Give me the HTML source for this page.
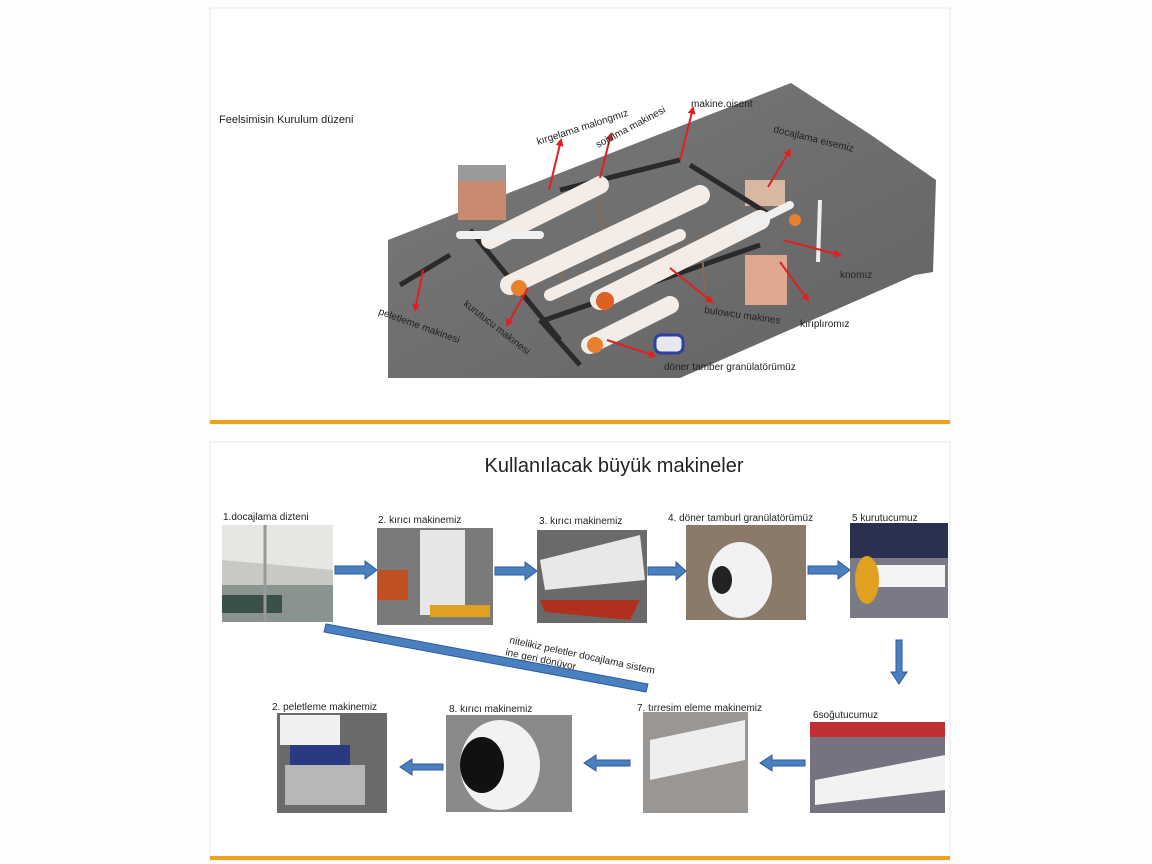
<!DOCTYPE html>
<html><head><meta charset="utf-8"><style>
html,body{margin:0;padding:0;background:#fdfdfd;}
svg{display:block}
text{font-family:"Liberation Sans",sans-serif;fill:#222}
</style></head><body>
<svg width="1152" height="864" viewBox="0 0 1152 864" xmlns="http://www.w3.org/2000/svg">
<defs>
<marker id="ra" markerWidth="8" markerHeight="8" refX="6" refY="4" orient="auto" markerUnits="userSpaceOnUse"><path d="M0,0 L8,4 L0,8 z" fill="#e02020"/></marker>
<linearGradient id="plat" x1="0" y1="0" x2="1" y2="1"><stop offset="0" stop-color="#7a7a7a"/><stop offset="1" stop-color="#636363"/></linearGradient>
</defs>
<rect width="1152" height="864" fill="#fdfdfd"/>
<rect x="210" y="8" width="740" height="416" fill="#fff" stroke="#e8e8e8"/>
<rect x="210" y="420" width="740" height="4" fill="#f0a020"/>
<text x="219" y="123" font-size="11">Feelsimisin Kurulum düzeni</text>
<polygon points="388,240 791,83 871,135 936,180 933,272 915,275 680,378 388,378" fill="url(#plat)"/>
<rect x="458" y="172" width="48" height="48" fill="#c98b70"/>
<rect x="458" y="165" width="48" height="16" fill="#9a9a9a"/>
<rect x="745" y="255" width="42" height="50" fill="#e0a890"/>
<rect x="745" y="180" width="40" height="26" fill="#d8b8a0"/>
<line x1="820" y1="200" x2="818" y2="262" stroke="#eee" stroke-width="4"/>
<g stroke="#2a2a2a" stroke-width="5">
<line x1="470" y1="230" x2="560" y2="340"/>
<line x1="540" y1="320" x2="580" y2="365"/>
<line x1="545" y1="320" x2="760" y2="245"/>
<line x1="560" y1="190" x2="680" y2="160"/>
<line x1="690" y1="165" x2="770" y2="215"/>
<line x1="400" y1="285" x2="450" y2="255"/>
</g>
<g stroke="#8a6a50" stroke-width="2">
<line x1="600" y1="200" x2="605" y2="260"/><line x1="640" y1="210" x2="645" y2="270"/><line x1="700" y1="230" x2="705" y2="290"/><line x1="560" y1="250" x2="565" y2="300"/>
</g>
<g stroke-linecap="round">
<line x1="490" y1="240" x2="600" y2="185" stroke="#f4ece6" stroke-width="18"/>
<line x1="510" y1="285" x2="700" y2="195" stroke="#f4ece6" stroke-width="20"/>
<line x1="550" y1="295" x2="680" y2="235" stroke="#f4ece6" stroke-width="12"/>
<line x1="600" y1="300" x2="760" y2="220" stroke="#f4ece6" stroke-width="20"/>
<line x1="590" y1="345" x2="670" y2="305" stroke="#f4ece6" stroke-width="18"/>
<line x1="460" y1="235" x2="540" y2="235" stroke="#f0f0f0" stroke-width="8"/>
<line x1="740" y1="230" x2="790" y2="205" stroke="#f0f0f0" stroke-width="8"/>
</g>
<circle cx="519" cy="288" r="8" fill="#e88030"/>
<circle cx="605" cy="301" r="9" fill="#e06020"/>
<circle cx="595" cy="345" r="8" fill="#e88030"/>
<circle cx="795" cy="220" r="6" fill="#e88030"/>
<rect x="655" y="335" width="28" height="18" rx="6" fill="#e8e8f0" stroke="#3040a0" stroke-width="3"/>
<g stroke="#e02020" stroke-width="2" fill="none" marker-end="url(#ra)">
<line x1="549" y1="190" x2="561" y2="140"/>
<line x1="600" y1="178" x2="611" y2="134"/>
<line x1="680" y1="160" x2="693" y2="108"/>
<line x1="768" y1="187" x2="790" y2="150"/>
<line x1="783" y1="240" x2="840" y2="255"/>
<line x1="780" y1="262" x2="808" y2="300"/>
<line x1="670" y1="268" x2="712" y2="302"/>
<line x1="607" y1="340" x2="655" y2="356"/>
<line x1="528" y1="288" x2="507" y2="325"/>
<line x1="423" y1="270" x2="415" y2="310"/>
</g>
<g font-size="10">
<text x="538" y="145" transform="rotate(-18 538 145)">kırgelama malongmız</text>
<text x="598" y="148" transform="rotate(-28 598 148)">sojutma makinesi</text>
<text x="691" y="107">makine.oisent</text>
<text x="773" y="132" transform="rotate(14 773 132)">docajlama eisemiz</text>
<text x="840" y="278">knomız</text>
<text x="800" y="327">kırıplıromız</text>
<text x="704" y="313" transform="rotate(8 704 313)">bulowcu makines</text>
<text x="664" y="370">döner tamber granülatörümüz</text>
<text x="463" y="305" transform="rotate(38 463 305)">kurutucu makınesi</text>
<text x="378" y="314" transform="rotate(20 378 314)">peletleme makinesi</text>
</g>
<rect x="210" y="442" width="740" height="418" fill="#fff" stroke="#e8e8e8"/>
<rect x="210" y="856" width="740" height="4" fill="#f0a020"/>
<text x="614" y="472" font-size="20" text-anchor="middle" fill="#111">Kullanılacak büyük makineler</text>
<g font-size="10">
<text x="223" y="520">1.docajlama dizteni</text>
<text x="378" y="523">2. kırıcı makinemiz</text>
<text x="539" y="524">3. kırıcı makinemiz</text>
<text x="668" y="521">4. döner tamburl granülatörümüz</text>
<text x="852" y="521">5 kurutucumuz</text>
<text x="272" y="710">2. peletleme makinemiz</text>
<text x="449" y="712">8. kırıcı makinemiz</text>
<text x="637" y="711">7. tırresim eleme makinemiz</text>
<text x="813" y="718">6soğutucumuz</text>
<text x="509" y="643" transform="rotate(12 509 643)">nitelikiz peletler docajlama sistem</text>
<text x="505" y="655" transform="rotate(12 505 655)">ine geri dönüyor</text>
</g>
<rect x="222" y="525" width="111" height="97" fill="#c8c8c4"/><polygon points="222,525 333,525 333,570 222,560" fill="#e8e6e2"/><rect x="222" y="585" width="111" height="37" fill="#8a948e"/><rect x="222" y="595" width="60" height="18" fill="#3a5048"/><line x1="265" y1="525" x2="265" y2="622" stroke="#999" stroke-width="3"/>
<rect x="377" y="528" width="116" height="97" fill="#7a7a7a"/><rect x="420" y="530" width="45" height="85" fill="#e6e6e6"/><rect x="378" y="570" width="30" height="30" fill="#c05020"/><rect x="430" y="605" width="60" height="12" fill="#e0a020"/>
<rect x="537" y="530" width="110" height="93" fill="#6a6a6a"/><polygon points="540,560 640,535 645,580 545,590" fill="#e8e8e8"/><polygon points="540,600 640,600 630,620 545,612" fill="#b03020"/>
<rect x="686" y="525" width="120" height="95" fill="#8a7a6a"/><ellipse cx="740" cy="580" rx="32" ry="38" fill="#f2f2f2"/><ellipse cx="722" cy="580" rx="10" ry="14" fill="#222"/>
<rect x="850" y="523" width="98" height="95" fill="#7a7a86"/><rect x="850" y="523" width="98" height="35" fill="#2a3050"/><rect x="860" y="565" width="85" height="22" fill="#f4f4f4"/><ellipse cx="867" cy="580" rx="12" ry="24" fill="#e0a020"/>
<rect x="277" y="713" width="110" height="100" fill="#6a6a6a"/><rect x="280" y="715" width="60" height="30" fill="#f0f0f0"/><rect x="290" y="745" width="60" height="20" fill="#2a3a80"/><rect x="285" y="765" width="80" height="40" fill="#d8d8d8" opacity=".7"/>
<rect x="446" y="715" width="126" height="97" fill="#8a8a8a"/><ellipse cx="500" cy="765" rx="40" ry="45" fill="#f2f2f2"/><ellipse cx="482" cy="765" rx="22" ry="28" fill="#111"/>
<rect x="643" y="712" width="105" height="101" fill="#9a9694"/><polygon points="650,740 745,720 745,760 650,780" fill="#eeeeee"/>
<rect x="810" y="722" width="135" height="91" fill="#767280"/><rect x="810" y="722" width="135" height="15" fill="#c03030"/><polygon points="815,780 945,755 945,790 815,805" fill="#f2f2f2"/>
<g fill="#4a80c0" stroke="#2a5a98" stroke-width="1">
<polygon points="335,566 365,566 365,561 377,570 365,579 365,574 335,574"/>
<polygon points="495,567 525,567 525,562 537,571 525,580 525,575 495,575"/>
<polygon points="648,567 676,567 676,562 686,571 676,580 676,575 648,575"/>
<polygon points="808,566 838,566 838,561 850,570 838,579 838,574 808,574"/>
<polygon points="896,640 902,640 902,672 907,672 899,684 891,672 896,672"/>
<polygon points="805,760 772,760 772,755 760,763 772,771 772,766 805,766"/>
<polygon points="630,760 596,760 596,755 584,763 596,771 596,766 630,766"/>
<polygon points="443,764 412,764 412,759 400,767 412,775 412,770 443,770"/>
<polygon points="326,624 648,684 646,692 324,632"/>
</g>
</svg>
</body></html>
